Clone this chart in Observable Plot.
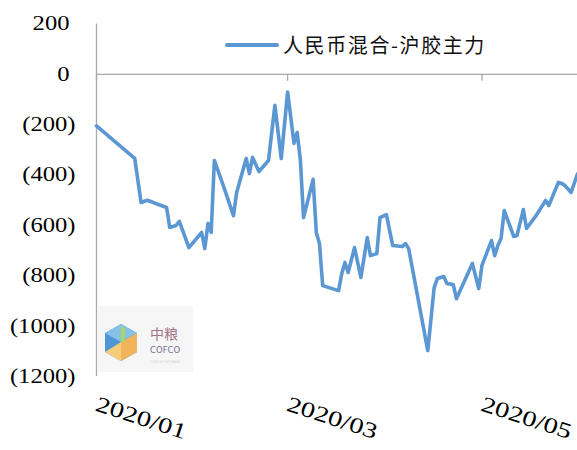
<!DOCTYPE html>
<html>
<head>
<meta charset="utf-8">
<script src="https://cdn.jsdelivr.net/npm/d3@7"></script>
<script src="https://cdn.jsdelivr.net/npm/@observablehq/plot@0.6"></script>
<style>
  html, body { margin: 0; padding: 0; background: #fff; }
  #wrap { position: relative; width: 577px; height: 450px; overflow: hidden; }
  #legend { position: absolute; left: 224px; top: 30px; display: flex; align-items: center; }
  #legend span { font-family: "Noto Sans CJK SC", sans-serif; font-size: 20px; letter-spacing: 1.6px; color: #111; margin-left: 3px; }
  #logo { position: absolute; left: 97px; top: 306px; width: 96px; height: 66px; background: #f6f6f6; }
  #chart svg text { font-family: "Liberation Serif", "DejaVu Serif", serif !important; }
</style>
</head>
<body>
<div id="wrap">
  <div id="chart"></div>
  <div id="legend">
    <svg width="56" height="8"><line x1="3" x2="53" y1="4" y2="4" stroke="#5b97d3" stroke-width="4" stroke-linecap="round"/></svg>
    <span>人民币混合-沪胶主力</span>
  </div>
  <div id="logo">
    <svg width="96" height="66">
      <polygon points="24,18 40,27 40,46 24,55 8,46 8,27" fill="#4f96d6"/>
      <polygon points="24,18 40,27 24,36 8,27" fill="#86c2e8"/>
      <polygon points="24,36 40,27 40,46 24,55" fill="#f2b45a"/>
      <polygon points="8,46 24,36 24,55" fill="#f7cc7a"/>
      <polygon points="24,20 28,22 28,36 24,36" fill="#a9d36d"/>
      <text x="53" y="33" font-family="Noto Sans CJK SC" font-size="14" fill="#a27489">中粮</text>
      <text x="53" y="47" font-family="DejaVu Sans" font-size="8.5" fill="#7d6d8e">COFCO</text>
      <text x="53" y="57" font-family="DejaVu Sans" font-size="3.5" fill="#c8c8c8">COFCO FUTURES</text>
    </svg>
  </div>
</div>
<script>
// ---- data ----
const dates = [
  "2020-01-01","2020-01-13","2020-01-15","2020-01-17","2020-01-20","2020-01-23","2020-01-24","2020-01-26","2020-01-27","2020-01-30",
  "2020-02-03","2020-02-04","2020-02-05","2020-02-06","2020-02-07","2020-02-10","2020-02-13","2020-02-14","2020-02-17","2020-02-18",
  "2020-02-19","2020-02-21","2020-02-24","2020-02-26","2020-02-28","2020-03-01","2020-03-03","2020-03-04","2020-03-05","2020-03-06",
  "2020-03-09","2020-03-10","2020-03-11","2020-03-12","2020-03-17","2020-03-18","2020-03-19","2020-03-20","2020-03-22","2020-03-24",
  "2020-03-26","2020-03-27","2020-03-29","2020-03-30","2020-04-01","2020-04-03","2020-04-06","2020-04-07","2020-04-08","2020-04-14",
  "2020-04-16","2020-04-17","2020-04-19","2020-04-20","2020-04-22","2020-04-23","2020-04-28","2020-04-30","2020-05-01","2020-05-04",
  "2020-05-05","2020-05-06","2020-05-07","2020-05-08","2020-05-11","2020-05-12","2020-05-14","2020-05-15","2020-05-18","2020-05-20",
  "2020-05-21","2020-05-22","2020-05-25","2020-05-26","2020-05-27","2020-05-29","2020-05-31"
];
const spread = [
  -205,-334,-509,-500,-515,-529,-608,-600,-584,-688,
  -628,-692,-592,-628,-342,-449,-561,-469,-334,-394,
  -330,-386,-342,-123,-334,-70,-274,-231,-340,-569,
  -417,-628,-672,-839,-859,-791,-747,-787,-688,-807,
  -648,-720,-712,-569,-557,-680,-684,-672,-692,-1097,
  -847,-811,-803,-831,-835,-891,-751,-851,-759,-660,
  -720,-680,-652,-541,-644,-640,-537,-612,-561,-521,
  -501,-521,-429,-433,-441,-469,-395
];
const seriesName = "人民币混合-沪胶主力";
const xTickLabels = ["2020-01-01","2020-03-01","2020-05-01"];
const yTickValues = [200, 0, -200, -400, -600, -800, -1000, -1200];

// ---- build ----
const data = dates.map((d, i) => ({date: new Date(d + "T00:00:00Z"), value: spread[i], series: seriesName}));
const xTicks = xTickLabels.map(d => new Date(d + "T00:00:00Z"));
const xDomain = [new Date("2020-01-01T00:00:00Z"), new Date("2020-05-31T00:00:00Z")];
const fmtY = v => v < 0 ? `(${-v})` : `${v}`;
const axisColor = "#a9a9a9";
const serif = "Liberation Serif";

const chart = Plot.plot({
  width: 577,
  height: 450,
  marginLeft: 96,
  marginRight: 0,
  marginTop: 23.5,
  marginBottom: 74,
  style: {fontFamily: serif, color: "#000", background: "#fff"},
  x: {type: "utc", domain: xDomain},
  y: {domain: [-1200, 200]},
  marks: [
    Plot.ruleY([0], {stroke: axisColor, strokeWidth: 1.3}),
    Plot.ruleX(xTicks, {x: d => d, y1: 0, y2: 0, insetBottom: -7, stroke: axisColor, strokeWidth: 1.3}),
    Plot.ruleX([xDomain[0]], {stroke: axisColor, strokeWidth: 1.3}),
    Plot.axisY({ticks: yTickValues, tickSize: 0, tickPadding: 21, tickFormat: fmtY, fontSize: 20, fontFamily: serif, label: null}),
    Plot.axisX({ticks: xTicks, tickSize: 0, tickPadding: 27, tickRotate: 18, textAnchor: "start",
                tickFormat: d3.utcFormat("%Y/%m"), fontSize: 22, fontFamily: serif, label: null}),
    Plot.line(data, {x: "date", y: "value", stroke: "#5b97d3", strokeWidth: 3.6, strokeLinejoin: "round", strokeLinecap: "round"})
  ]
});
document.getElementById("chart").append(chart);

// widen the serif labels like the reference
chart.querySelectorAll('[aria-label="y-axis tick label"] text').forEach(t => {
  const L = t.getComputedTextLength();
  t.setAttribute("textLength", L * 1.23);
  t.setAttribute("lengthAdjust", "spacingAndGlyphs");
  if (!t.textContent.startsWith("(")) t.setAttribute("dx", -6);
});
chart.querySelectorAll('[aria-label="x-axis tick label"] text').forEach(t => {
  const L = t.getComputedTextLength();
  t.setAttribute("textLength", L * 1.3);
  t.setAttribute("lengthAdjust", "spacingAndGlyphs");
});
</script>
</body>
</html>
